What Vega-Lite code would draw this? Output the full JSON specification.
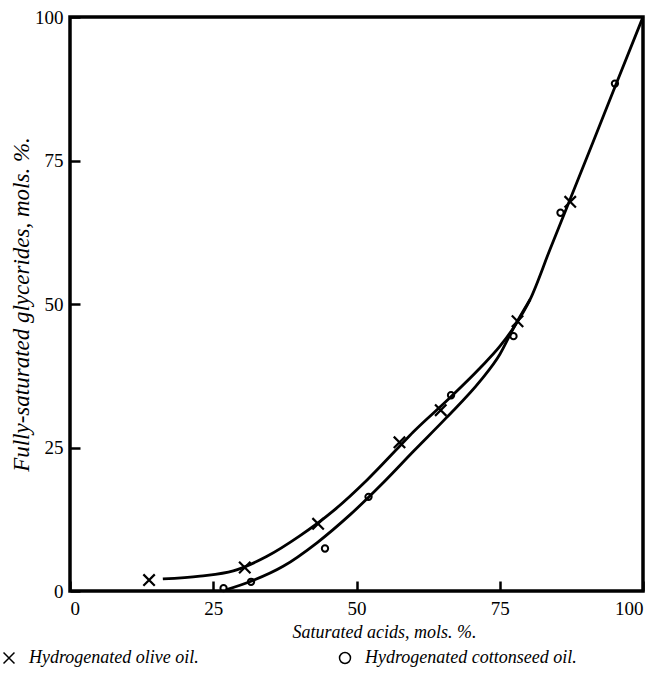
{
  "$schema": "https://vega.github.io/schema/vega-lite/v6.json",
  "width": 573,
  "height": 574,
  "autosize": {"type": "none"},
  "padding": {"left": 70, "top": 17, "right": 19, "bottom": 85},
  "background": "white",
  "config": {
    "view": {"stroke": "black", "strokeWidth": 3.5},
    "axis": {
      "grid": false,
      "domain": false,
      "tickColor": "black",
      "tickWidth": 2.5,
      "tickSize": -10,
      "labelFont": "Liberation Serif",
      "labelFontSize": 19,
      "labelColor": "black",
      "titleFont": "Liberation Serif",
      "titleFontStyle": "italic",
      "titleFontWeight": "normal",
      "titleFontSize": 18,
      "titleColor": "black"
    },
    "legend": {
      "title": null,
      "orient": "none",
      "legendX": -70,
      "legendY": 632,
      "direction": "horizontal",
      "labelFont": "Liberation Serif",
      "labelFontStyle": "italic",
      "labelFontSize": 18,
      "labelColor": "black",
      "labelLimit": 400,
      "symbolStrokeColor": "black",
      "symbolStrokeWidth": 1.5,
      "symbolSize": 120,
      "labelOffset": 11,
      "columnPadding": 137
    }
  },
  "datasets": {
    "points": [
      {"oil": "Hydrogenated olive oil.", "sat": 13.8, "full": 1.9},
      {"oil": "Hydrogenated olive oil.", "sat": 30.5, "full": 4.1},
      {"oil": "Hydrogenated olive oil.", "sat": 43.3, "full": 11.7},
      {"oil": "Hydrogenated olive oil.", "sat": 57.5, "full": 25.9},
      {"oil": "Hydrogenated olive oil.", "sat": 64.7, "full": 31.5},
      {"oil": "Hydrogenated olive oil.", "sat": 78.1, "full": 47.0},
      {"oil": "Hydrogenated olive oil.", "sat": 87.3, "full": 67.8},
      {"oil": "Hydrogenated cottonseed oil.", "sat": 26.8, "full": 0.5},
      {"oil": "Hydrogenated cottonseed oil.", "sat": 31.6, "full": 1.6},
      {"oil": "Hydrogenated cottonseed oil.", "sat": 44.5, "full": 7.4},
      {"oil": "Hydrogenated cottonseed oil.", "sat": 52.1, "full": 16.4},
      {"oil": "Hydrogenated cottonseed oil.", "sat": 66.5, "full": 34.1},
      {"oil": "Hydrogenated cottonseed oil.", "sat": 77.4, "full": 44.4},
      {"oil": "Hydrogenated cottonseed oil.", "sat": 85.6, "full": 65.9},
      {"oil": "Hydrogenated cottonseed oil.", "sat": 95.1, "full": 88.4}
    ],
    "curves": [
      {"oil": "olive", "sat": 16.2, "full": 2.1},
      {"oil": "olive", "sat": 22.7, "full": 2.6},
      {"oil": "olive", "sat": 28.5, "full": 3.5},
      {"oil": "olive", "sat": 34.3, "full": 6.0},
      {"oil": "olive", "sat": 40.1, "full": 9.6},
      {"oil": "olive", "sat": 46.0, "full": 14.0},
      {"oil": "olive", "sat": 51.8, "full": 19.3},
      {"oil": "olive", "sat": 57.6, "full": 25.3},
      {"oil": "olive", "sat": 59.9, "full": 27.7},
      {"oil": "olive", "sat": 65.7, "full": 33.1},
      {"oil": "olive", "sat": 71.6, "full": 38.9},
      {"oil": "olive", "sat": 75.0, "full": 42.6},
      {"oil": "olive", "sat": 77.5, "full": 46.0},
      {"oil": "olive", "sat": 80.3, "full": 50.8},
      {"oil": "olive", "sat": 83.8, "full": 59.6},
      {"oil": "olive", "sat": 87.3, "full": 68.3},
      {"oil": "olive", "sat": 91.2, "full": 78.0},
      {"oil": "olive", "sat": 95.1, "full": 87.8},
      {"oil": "olive", "sat": 100, "full": 100},
      {"oil": "cotton", "sat": 27.2, "full": 0.2},
      {"oil": "cotton", "sat": 31.6, "full": 1.7},
      {"oil": "cotton", "sat": 37.2, "full": 4.3},
      {"oil": "cotton", "sat": 43.1, "full": 8.4},
      {"oil": "cotton", "sat": 48.9, "full": 13.3},
      {"oil": "cotton", "sat": 54.7, "full": 18.9},
      {"oil": "cotton", "sat": 59.9, "full": 24.3},
      {"oil": "cotton", "sat": 65.7, "full": 30.2},
      {"oil": "cotton", "sat": 71.6, "full": 36.6},
      {"oil": "cotton", "sat": 75.0, "full": 41.2},
      {"oil": "cotton", "sat": 77.5, "full": 46.0},
      {"oil": "cotton", "sat": 80.3, "full": 50.8}
    ]
  },
  "encoding": {
    "x": {
      "field": "sat", "type": "quantitative",
      "scale": {"domain": [0, 100], "nice": false},
      "axis": {
        "values": [0, 25, 50, 75, 100],
        "title": "Saturated acids, mols. %.",
        "labelPadding": 18,
        "titleX": 314,
        "titleY": 46,
        "titleBaseline": "alphabetic"
      }
    },
    "y": {
      "field": "full", "type": "quantitative",
      "scale": {"domain": [0, 100], "nice": false},
      "axis": {
        "values": [0, 25, 50, 75, 100],
        "title": "Fully-saturated glycerides, mols. %.",
        "titleFontSize": 23,
        "labelPadding": 17,
        "titleX": -42,
        "titleY": 287,
        "titleAlign": "center",
        "titleBaseline": "alphabetic"
      }
    }
  },
  "layer": [
    {
      "data": {"name": "curves"},
      "mark": {"type": "line", "color": "black", "strokeWidth": 2.8, "interpolate": "monotone"},
      "encoding": {
        "detail": {"field": "oil"}
      }
    },
    {
      "data": {"name": "points"},
      "transform": [{"filter": "datum.oil === 'Hydrogenated olive oil.'"}],
      "mark": {"type": "point", "color": "black", "filled": false, "strokeWidth": 2.2, "opacity": 1, "size": 130},
      "encoding": {
        "shape": {
          "field": "oil", "type": "nominal",
          "scale": {
            "domain": ["Hydrogenated olive oil.", "Hydrogenated cottonseed oil."],
            "range": ["M-1,-1L1,1M-1,1L1,-1", "circle"]
          }
        }
      }
    },
    {
      "data": {"name": "points"},
      "transform": [{"filter": "datum.oil === 'Hydrogenated cottonseed oil.'"}],
      "mark": {"type": "point", "color": "black", "filled": false, "strokeWidth": 2, "opacity": 1, "size": 40},
      "encoding": {
        "shape": {
          "field": "oil", "type": "nominal",
          "scale": {
            "domain": ["Hydrogenated olive oil.", "Hydrogenated cottonseed oil."],
            "range": ["M-1,-1L1,1M-1,1L1,-1", "circle"]
          }
        }
      }
    }
  ]
}
